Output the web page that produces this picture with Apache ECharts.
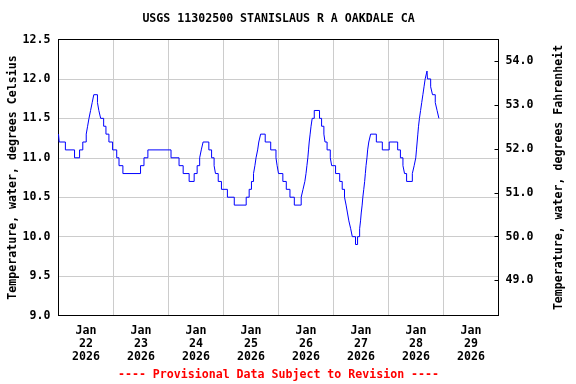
<!DOCTYPE html>
<html>
<head>
<meta charset="utf-8">
<script src="https://cdn.jsdelivr.net/npm/echarts@6/dist/echarts.min.js"></script>
<style>
html,body{margin:0;padding:0;background:#fff;}
#chart{width:576px;height:384px;}
</style>
</head>
<body>
<div id="chart"></div>
<script>
// Hours since 2026-01-22 00:00 at which the recorded value changes
const times = [0, 0.3, 3.0, 7.0, 9.2, 10.6, 12.1, 12.7, 13.3, 14.0, 14.7, 15.4, 17.0, 17.6, 18.4, 19.7, 20.7, 22.0, 23.6,
  25.4, 26.4, 28.1, 35.8, 37.3, 39.0, 49.1,
  52.6, 54.4, 57.0, 59.2, 60.5, 61.6, 62.3, 63.1, 65.6, 66.8, 67.9, 68.5, 69.7, 71.1,
  73.7, 76.7, 81.9, 83.2, 84.2, 85.1, 85.7, 86.2, 86.9, 87.4, 88.2, 90.2, 92.6, 94.9, 95.4,
  96.0, 97.9, 99.4, 101.0, 102.9, 105.9, 106.7, 107.5, 108.0, 108.4, 108.8, 109.1, 109.4, 109.8, 110.2, 110.7, 111.6,
  113.9, 114.8, 115.8, 116.3, 117.2, 118.6, 119.2,
  120.9, 122.7, 123.8, 124.8, 125.5, 126.1, 126.7, 127.5, 128.2, 129.6, 130.5, 131.4, 131.8, 132.1, 132.5, 132.8,
  133.2, 133.6, 133.9, 134.2, 134.6, 134.9, 135.4, 136.2, 138.7, 141.3,
  144.3, 148.0, 149.2, 150.3, 151.0, 151.9, 154.4, 155.2, 155.9, 156.2, 156.5, 156.8, 157.1, 157.5, 158.0, 158.5,
  159.0, 159.5, 160.0, 160.8, 161.0, 162.4, 163.2, 164.4, 165.2, 166.0];
const tempsC = [11.3, 11.2, 11.1, 11.0, 11.1, 11.2, 11.3, 11.4, 11.5, 11.6, 11.7, 11.8, 11.7, 11.6, 11.5, 11.4, 11.3, 11.2, 11.1,
  11.0, 10.9, 10.8, 10.9, 11.0, 11.1, 11.0,
  10.9, 10.8, 10.7, 10.8, 10.9, 11.0, 11.1, 11.2, 11.1, 11.0, 10.9, 10.8, 10.7, 10.6,
  10.5, 10.4, 10.5, 10.6, 10.7, 10.8, 10.9, 11.0, 11.1, 11.2, 11.3, 11.2, 11.1, 11.0, 10.9,
  10.8, 10.7, 10.6, 10.5, 10.4, 10.5, 10.6, 10.7, 10.8, 10.9, 11.0, 11.1, 11.2, 11.3, 11.4, 11.5, 11.6,
  11.5, 11.4, 11.3, 11.2, 11.1, 11.0, 10.9,
  10.8, 10.7, 10.6, 10.5, 10.4, 10.3, 10.2, 10.1, 10.0, 9.9, 10.0, 10.1, 10.2, 10.3, 10.4, 10.5,
  10.6, 10.7, 10.8, 10.9, 11.0, 11.1, 11.2, 11.3, 11.2, 11.1,
  11.2, 11.1, 11.0, 10.9, 10.8, 10.7, 10.8, 10.9, 11.0, 11.1, 11.2, 11.3, 11.4, 11.5, 11.6, 11.7,
  11.8, 11.9, 12.0, 12.1, 12.0, 11.9, 11.8, 11.7, 11.6, 11.5];

const dayNumbers = [22, 23, 24, 25, 26, 27, 28, 29];
const dayLabelHours = [12, 36, 60, 84, 108, 132, 156, 180];
const fahrenheitTicks = [49, 50, 51, 52, 53, 54];
const titleText = 'USGS 11302500 STANISLAUS R A OAKDALE CA';
const footerText = '---- Provisional Data Subject to Revision ----';
const leftName = 'Temperature, water, degrees Celsius';
const rightName = 'Temperature, water, degrees Fahrenheit';

const cMin = 9.0, cMax = 12.5;
const FONT = '"DejaVu Sans Mono", monospace';
const gridL = 58.5, gridR = 77.5, gridT = 39.5, gridB = 68.5;
const plotCenterX = gridL + (576 - gridL - gridR) / 2;
const blackLine = {show: true, onZero: false, lineStyle: {color: '#000', width: 1}};

const chart = echarts.init(document.getElementById('chart'), null, {renderer: 'canvas'});
const seriesData = times.map((t, i) => [t, tempsC[i]]);

chart.setOption({
  animation: false,
  backgroundColor: '#ffffff',
  grid: {left: gridL, right: gridR, top: gridT, bottom: gridB, containLabel: false, outerBoundsMode: 'none', show: false},
  graphic: [
    {type: 'text', x: plotCenterX, y: 19, style: {text: titleText, align: 'center', verticalAlign: 'middle', font: 'bold 11.6px ' + FONT, fill: '#000'}},
    {type: 'text', x: plotCenterX, y: 375, style: {text: footerText, align: 'center', verticalAlign: 'middle', font: 'bold 11.6px ' + FONT, fill: '#ff0000'}}
  ],
  xAxis: [
    {
      type: 'value', min: 0, max: 192, interval: 24, position: 'bottom',
      axisLine: blackLine,
      axisTick: {show: false},
      splitLine: {show: true, lineStyle: {color: '#cccccc', width: 1}},
      axisLabel: {
        customValues: dayLabelHours,
        margin: 9, lineHeight: 13,
        fontFamily: FONT, fontWeight: 'bold', fontSize: 11.6, color: '#000',
        formatter: v => {
          const i = dayLabelHours.indexOf(Math.round(v));
          return i < 0 ? '' : 'Jan\n' + dayNumbers[i] + '\n2026';
        }
      }
    },
    {
      type: 'value', min: 0, max: 192, position: 'top',
      axisLine: blackLine, axisTick: {show: false}, axisLabel: {show: false}, splitLine: {show: false}
    }
  ],
  yAxis: [
    {
      type: 'value', min: cMin, max: cMax, interval: 0.5, position: 'left',
      name: leftName, nameLocation: 'middle', nameGap: 40, nameRotate: 90, nameMoveOverlap: false,
      nameTextStyle: {fontFamily: FONT, fontWeight: 'bold', fontSize: 11.6, color: '#000'},
      axisLine: blackLine, axisTick: {show: false},
      splitLine: {show: true, lineStyle: {color: '#cccccc', width: 1}},
      axisLabel: {margin: 8, fontFamily: FONT, fontWeight: 'bold', fontSize: 11.6, color: '#000', formatter: v => v.toFixed(1)}
    },
    {
      type: 'value', position: 'right', min: cMin * 1.8 + 32, max: cMax * 1.8 + 32,
      name: rightName, nameLocation: 'middle', nameGap: 54, nameRotate: 90, nameMoveOverlap: false,
      nameTextStyle: {fontFamily: FONT, fontWeight: 'bold', fontSize: 11.6, color: '#000'},
      axisLine: blackLine,
      axisTick: {show: true, inside: true, length: 4, customValues: fahrenheitTicks, lineStyle: {color: '#000', width: 1}},
      splitLine: {show: false},
      axisLabel: {customValues: fahrenheitTicks, margin: 7, fontFamily: FONT, fontWeight: 'bold', fontSize: 11.6, color: '#000', formatter: v => v.toFixed(1)}
    }
  ],
  series: [{
    type: 'line', xAxisIndex: 0, yAxisIndex: 0, step: 'end',
    data: seriesData, showSymbol: false, symbol: 'none',
    lineStyle: {color: '#0000ff', width: 1}
  }]
});
</script>
</body>
</html>
